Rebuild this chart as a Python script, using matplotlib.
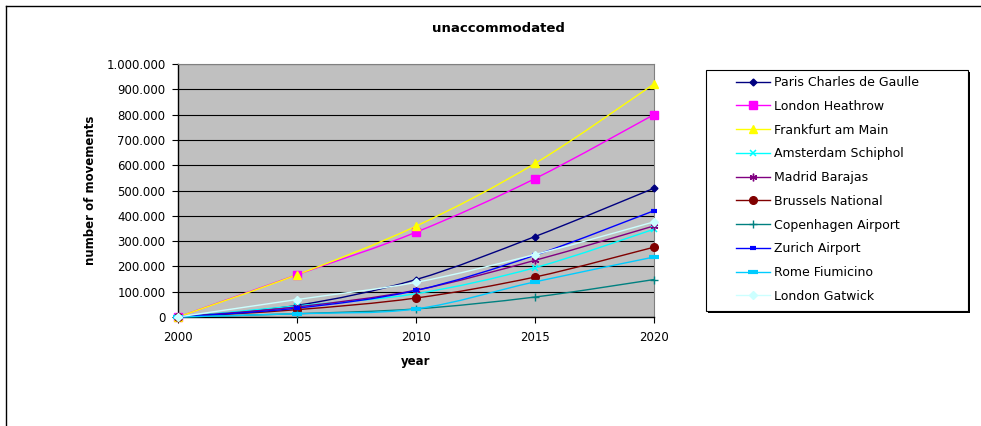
import matplotlib
matplotlib.use("Agg")
import matplotlib.pyplot as plt
from matplotlib.path import Path
from matplotlib.patches import PathPatch, Rectangle
from matplotlib.lines import Line2D
from matplotlib.ticker import FuncFormatter, MultipleLocator
import numpy as np

years = [2000, 2005, 2010, 2015, 2020]
series_names = ["Paris Charles de Gaulle", "London Heathrow", "Frankfurt am Main",
                "Amsterdam Schiphol", "Madrid Barajas", "Brussels National",
                "Copenhagen Airport", "Zurich Airport", "Rome Fiumicino", "London Gatwick"]
paris = [0, 46000, 148000, 318000, 509000]
heathrow = [0, 167000, 335000, 547000, 800000]
frankfurt = [0, 167000, 359000, 607000, 921000]
amsterdam = [0, 44000, 92000, 195000, 347000]
madrid = [0, 40000, 106000, 224000, 360000]
brussels = [0, 29000, 75000, 158000, 276000]
copenhagen = [0, 13000, 32000, 79000, 148000]
zurich = [0, 35000, 105000, 244000, 420000]
rome = [0, 13000, 32000, 139000, 237000]
gatwick = [0, 69000, 137000, 247000, 376000]
values = [paris, heathrow, frankfurt, amsterdam, madrid, brussels,
          copenhagen, zurich, rome, gatwick]

colors = ["#000080", "#FF00FF", "#FFFF00", "#00FFFF", "#800080", "#800000",
          "#008080", "#0000FF", "#00CCFF", "#CCFFFF"]
markers = ["D", "s", "^", "x", (6, 2, 0), "o", "+", "_", "_", "D"]
msizes = [3.5, 5.5, 5.5, 5, 5.5, 5.5, 5.5, 5, 6.5, 4.5]
mews = [1, 1, 1, 1.1, 1, 1, 1, 3, 3, 1]

plt.rcParams['font.family'] = ['DejaVu Sans']
fig = plt.figure(figsize=(9.81, 4.26), dpi=100)
W, H = 981, 426
ax = fig.add_axes([178 / W, 1 - 317 / H, (654 - 178) / W, (317 - 64) / H])
ax.set_facecolor("#C0C0C0")


def smooth_path(x, y):
    pts = np.column_stack([x, y]).astype(float)
    n = len(pts)
    verts = [pts[0]]
    codes = [Path.MOVETO]
    for i in range(n - 1):
        p0 = pts[i - 1] if i > 0 else pts[i]
        p1 = pts[i]
        p2 = pts[i + 1]
        p3 = pts[i + 2] if i + 2 < n else pts[i + 1]
        c1 = p1 + (p2 - p0) / 6.0
        c2 = p2 - (p3 - p1) / 6.0
        verts += [c1, c2, p2]
        codes += [Path.CURVE4] * 3
    return Path(verts, codes)


handles = []
for name, vals, c, m, ms, mew in zip(series_names, values, colors, markers, msizes, mews):
    patch = PathPatch(smooth_path(years, vals), fill=False, edgecolor=c, lw=1.0,
                      clip_on=False, zorder=3)
    ax.add_patch(patch)
    ax.plot(years, vals, linestyle="none", marker=m, color=c, markersize=ms,
            markeredgewidth=mew, clip_on=False, zorder=4)
    handles.append(Line2D([], [], color=c, lw=1.0, marker=m, markersize=ms,
                          markeredgewidth=mew))

ax.set_xlim(2000, 2020)
ax.set_ylim(0, 1000000)
ax.set_xticks(years)
ax.yaxis.set_major_locator(MultipleLocator(100000))
ax.yaxis.set_major_formatter(FuncFormatter(lambda v, p: f"{int(v):,}".replace(",", ".")))
ax.grid(axis="y", color="#000000", lw=0.8)
ax.set_axisbelow(True)
for s in ["top", "right"]:
    ax.spines[s].set_color("#808080")
    ax.spines[s].set_linewidth(0.8)
ax.spines["left"].set_linewidth(1.0)
ax.spines["bottom"].set_linewidth(1.0)
ax.tick_params(axis="both", direction="out", length=4, width=0.8, labelsize=8.5,
               colors="black", pad=5)
ax.tick_params(axis="x", pad=6)

fig.text(498 / W, 1 - 28 / H, "unaccommodated", fontsize=9.5, fontweight="bold",
         ha="center", va="center")
ax.set_xlabel("year", fontsize=8.5, fontweight="bold", labelpad=8)
ax.set_ylabel("number of movements", fontsize=8.5, fontweight="bold", labelpad=7)

# legend frame with shadow
lx0, ly0, lx1, ly1 = 706, 70, 968, 311
fig.add_artist(Rectangle((lx0 / W + 2 / W, 1 - ly1 / H - 2 / H), (lx1 - lx0) / W, (ly1 - ly0) / H,
                         transform=fig.transFigure, facecolor="black", edgecolor="none", zorder=1))
fig.add_artist(Rectangle((lx0 / W, 1 - ly1 / H), (lx1 - lx0) / W, (ly1 - ly0) / H,
                         transform=fig.transFigure, facecolor="white", edgecolor="black",
                         lw=0.8, zorder=2))
leg = fig.legend(handles, series_names, loc="upper left",
                 bbox_to_anchor=(736 / W, 1 - 76 / H), frameon=False,
                 fontsize=9, handlelength=2.75, handletextpad=0.25, labelspacing=0.86,
                 borderaxespad=0, borderpad=0)
leg.set_zorder(3)

# outer chart border
fig.add_artist(Line2D([6 / W, 6 / W], [0, 1 - 6 / H], transform=fig.transFigure, color="black", lw=1))
fig.add_artist(Line2D([6 / W, 1], [1 - 6 / H, 1 - 6 / H], transform=fig.transFigure, color="black", lw=1))

fig.savefig("out.png", dpi=100)
